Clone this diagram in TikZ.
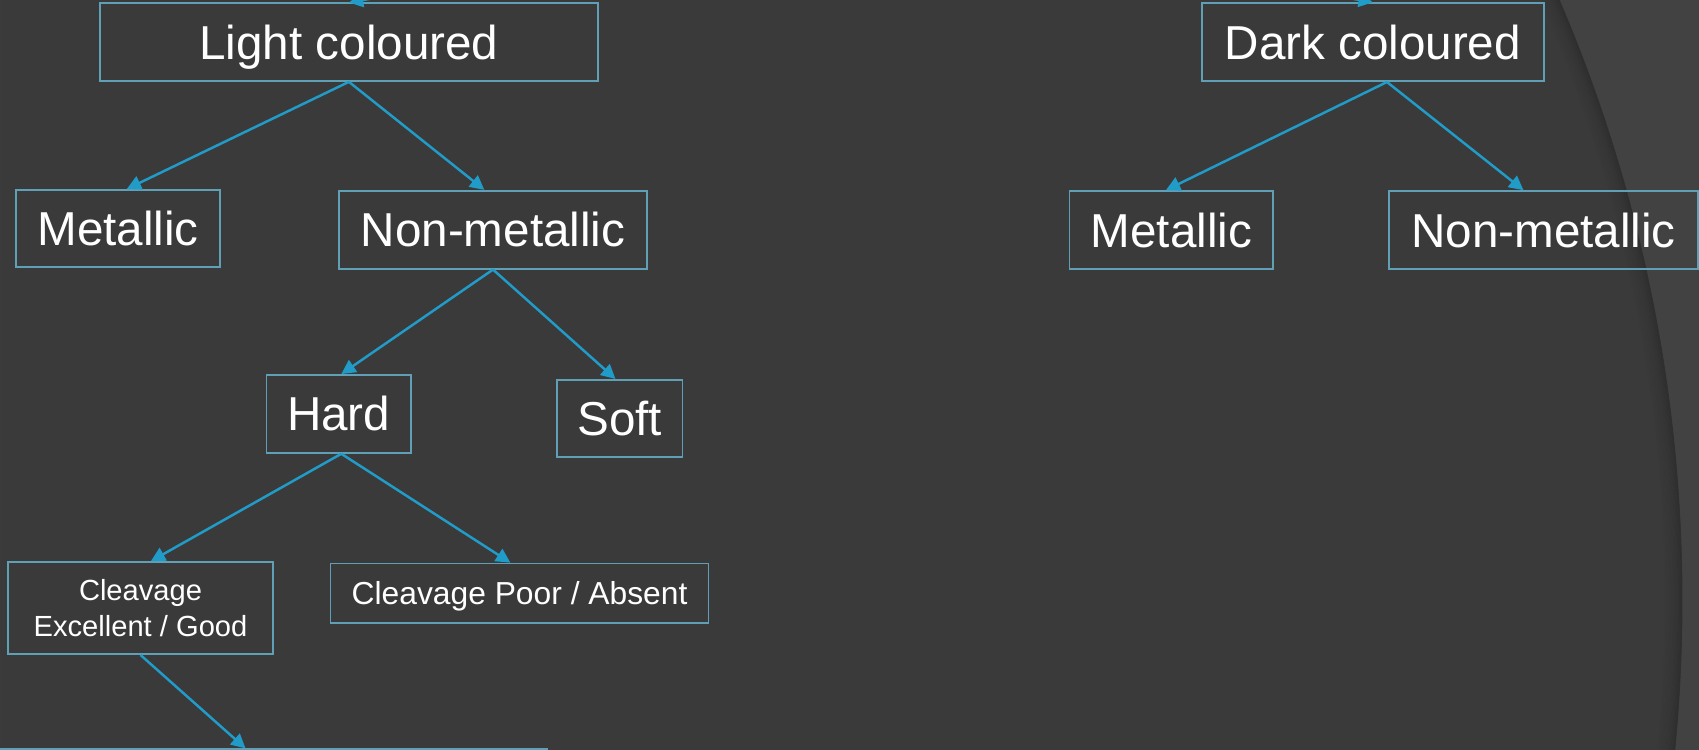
\documentclass[tikz,border=0pt]{standalone}
\usepackage{fontspec}
\setmainfont{Liberation Sans}
\usetikzlibrary{arrows.meta}
\definecolor{bg}{HTML}{3A3A3A}
\definecolor{bgr}{HTML}{424242}
\definecolor{boxc}{RGB}{95,160,182}
\definecolor{arrc}{RGB}{33,155,200}
\tikzset{
  box/.style={draw=boxc, line width=0.9pt, text=white, inner sep=0pt,
    font=\fontsize{25}{30}\selectfont, text height=17.9pt, text depth=0pt},
  midbox/.style={draw=boxc, line width=0.9pt, text=white, inner sep=0pt,
    font=\fontsize{16.7}{20}\selectfont, text height=12pt, text depth=0pt},
  smallbox/.style={draw=boxc, line width=0.9pt, text=white, inner sep=0pt, align=center,
    font=\fontsize{15.3}{18.8}\selectfont},
  conn/.style={draw=arrc, line width=1.3pt, -{Triangle[length=7.5pt,width=7.5pt]}},
}
\begin{document}
\begin{tikzpicture}[x=0.02cm,y=-0.02cm]
\useasboundingbox (0,0) rectangle (1568,692);
\clip (0,0) rectangle (1568,692);
\fill[bg] (0,0) rectangle (1568,692);
\fill[bgr,even odd rule] (0,0) rectangle (1568,692) (146,554) circle[radius=28.14cm];
\foreach \k/\o in {0/0.18,1/0.15,2/0.12,3/0.10,4/0.08,5/0.06,6/0.05,7/0.04,8/0.03,9/0.02,10/0.01}{
  \pgfmathsetmacro\rr{28.14-0.03*\k-0.015}
  \draw[black,opacity=\o,line width=0.03cm] (146,554) circle[radius=\rr cm];
}

\coordinate (root) at (798,-80);

\node[box, minimum width=9.19cm, minimum height=1.434cm] (light) at (322,38.9) {Light coloured};
\node[box, minimum width=3.76cm, minimum height=1.43cm] (metL) at (109,211) {Metallic};
\node[box, minimum width=5.68cm, minimum height=1.44cm] (nonL) at (455,212) {Non-metallic};
\node[box, minimum width=2.66cm, minimum height=1.44cm] (hard) at (312.5,382) {Hard};
\node[box, minimum width=2.32cm, minimum height=1.42cm] (soft) at (572,386) {Soft};
\node[smallbox, minimum width=4.89cm, minimum height=1.70cm] (cleEG) at (129.7,561.2) {Cleavage\\Excellent / Good};
\node[midbox, minimum width=6.98cm, minimum height=1.094cm] (clePA) at (479.5,547.4) {Cleavage Poor / Absent};
\node[smallbox, minimum width=11.14cm, minimum height=2.8cm, anchor=north] (bottom) at (226.6,690.7) {};

\node[box, minimum width=6.32cm, minimum height=1.44cm] (dark) at (1267,38.9) {Dark coloured};
\node[box, minimum width=3.76cm, minimum height=1.44cm] (metR) at (1081,212.3) {Metallic};
\node[box, minimum width=5.70cm, minimum height=1.44cm] (nonR) at (1424.5,212.3) {Non-metallic};

\draw[conn] (root) -- (light.north);
\draw[conn] (root) -- (dark.north);
\draw[conn] (light.south) -- ([xshift=0.16cm]metL.north);
\draw[conn] (light.south) -- ([xshift=-0.16cm]nonL.north);
\draw[conn] (nonL.south) -- ([xshift=0.05cm]hard.north);
\draw[conn] (nonL.south) -- ([xshift=-0.08cm]soft.north);
\draw[conn] ([xshift=0.05cm]hard.south) -- ([xshift=0.19cm]cleEG.north);
\draw[conn] ([xshift=0.05cm]hard.south) -- ([xshift=-0.17cm]clePA.north);
\draw[conn] (cleEG.south) -- (bottom.north);
\draw[conn] ([xshift=0.26cm]dark.south) -- ([xshift=-0.1cm]metR.north);
\draw[conn] ([xshift=0.26cm]dark.south) -- ([xshift=-0.37cm]nonR.north);
\end{tikzpicture}
\end{document}
